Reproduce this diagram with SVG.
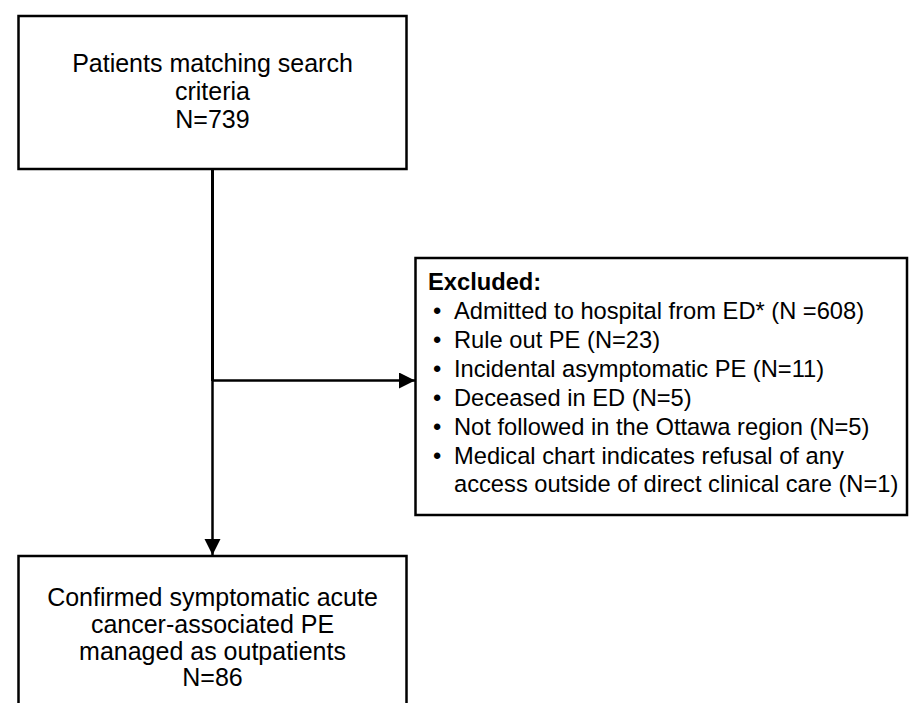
<svg xmlns="http://www.w3.org/2000/svg" width="916" height="703" viewBox="0 0 916 703">
<style>
.box{fill:#fff;stroke:#000;stroke-width:2.5}
.t{font-family:"Liberation Sans",Arial,sans-serif;font-size:25px;fill:#000}
.e{font-size:23.7px}
.c{text-anchor:middle}
.b{font-weight:bold}
.ln{stroke:#000;stroke-width:2.5;fill:none}
</style>
<defs>
<marker id="ah" markerWidth="18" markerHeight="18" refX="16" refY="8" orient="auto" markerUnits="userSpaceOnUse">
<path d="M0,0 L16,8 L0,16 Z" fill="#000"/>
</marker>
</defs>
<rect width="916" height="703" fill="#fff"/>
<g id="connectors">
<line class="ln" x1="212.5" y1="169" x2="212.5" y2="381" style="stroke-width:3"/>
<line class="ln" x1="212.5" y1="380" x2="212.5" y2="555" marker-end="url(#ah)"/>
<line class="ln" x1="212.5" y1="380.5" x2="415" y2="380.5" marker-end="url(#ah)"/>
</g>
<g id="node-start">
<rect class="box" x="18.5" y="16" width="388" height="153"/>
<text class="t c" x="212.5" y="72">Patients matching search</text>
<text class="t c" x="212.5" y="100">criteria</text>
<text class="t c" x="212.5" y="128">N=739</text>
</g>
<g id="node-excluded">
<rect class="box" x="415.5" y="258" width="491.5" height="257"/>
<text class="t e b" x="428" y="290">Excluded:</text>
<text class="t e" x="433" y="319">•</text><text class="t e" x="454" y="319">Admitted to hospital from ED* (N =608)</text>
<text class="t e" x="433" y="348">•</text><text class="t e" x="454" y="348">Rule out PE (N=23)</text>
<text class="t e" x="433" y="377">•</text><text class="t e" x="454" y="377">Incidental asymptomatic PE (N=11)</text>
<text class="t e" x="433" y="406">•</text><text class="t e" x="454" y="406">Deceased in ED (N=5)</text>
<text class="t e" x="433" y="435">•</text><text class="t e" x="454" y="435">Not followed in the Ottawa region (N=5)</text>
<text class="t e" x="433" y="464">•</text><text class="t e" x="454" y="464">Medical chart indicates refusal of any</text>
<text class="t e" x="454" y="492">access outside of direct clinical care (N=1)</text>
</g>
<g id="node-final">
<rect class="box" x="18.5" y="556" width="388" height="160"/>
<text class="t c" x="212.5" y="606">Confirmed symptomatic acute</text>
<text class="t c" x="212.5" y="633">cancer-associated PE</text>
<text class="t c" x="212.5" y="660">managed as outpatients</text>
<text class="t c" x="212.5" y="686">N=86</text>
</g>
</svg>
